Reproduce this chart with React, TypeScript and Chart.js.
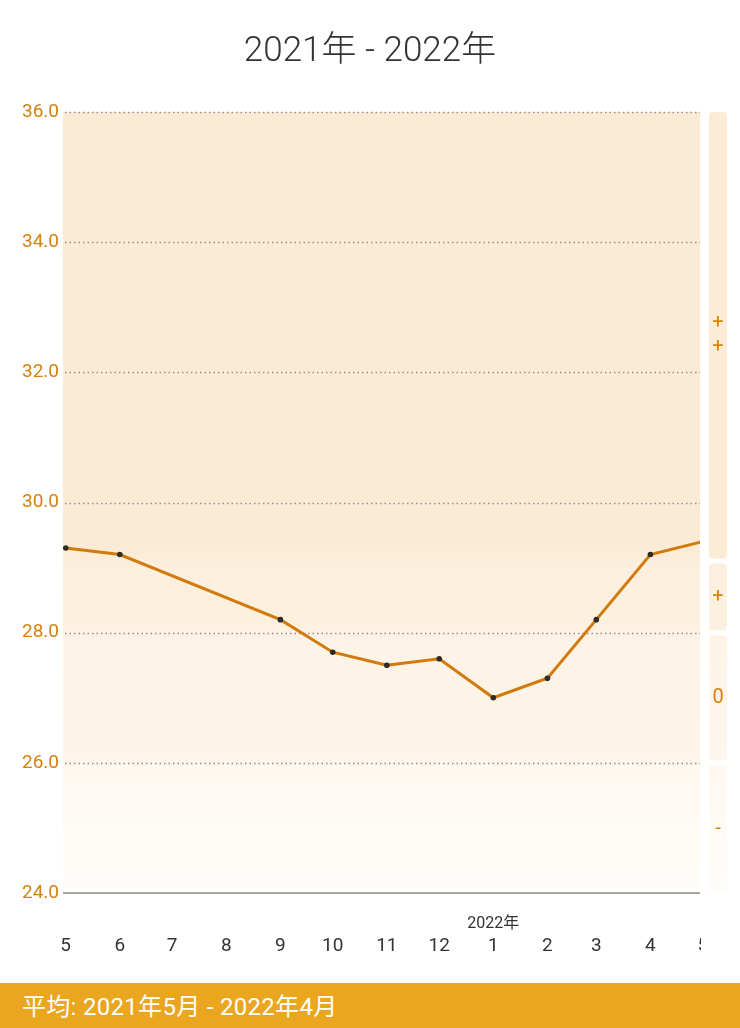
import React, { useEffect, useRef } from 'react';
import { Chart, registerables } from 'chart.js';

Chart.register(...registerables);

const FONT = "Roboto, 'Noto Sans CJK JP', 'Noto Sans', sans-serif";

const titleText = '2021年 - 2022年';
const footerText = '平均: 2021年5月 - 2022年4月';
const monthDates = [
  '2021-05-01', '2021-06-01', '2021-07-01', '2021-08-01', '2021-09-01', '2021-10-01', '2021-11-01',
  '2021-12-01', '2022-01-01', '2022-02-01', '2022-03-01', '2022-04-01', '2022-05-01',
];
const monthLabels = ['5', '6', '7', '8', '9', '10', '11', '12', '1', '2', '3', '4', '5'];
const values: (number | null)[] = [29.3, 29.2, null, null, 28.2, 27.7, 27.5, 27.6, 27.0, 27.3, 28.2, 29.2, 29.4];
const yearLabelIndex = 8;
const yearLabelText = '2022年';
const yMin = 24;
const yMax = 36;
const yStep = 2;
const xMinDate = '2021-04-29T11:00:00';
const xMaxDate = '2022-04-29T10:00:00';
const bandEdges = [36, 29.1, 28, 26, 24];
const bandSymbols = [['+', '+'], ['+'], ['0'], ['-']];

const ORANGE_TEXT = '#d4810f';
const LINE_COLOR = '#d27a0c';

const DAY = 86400000;
const toDays = (s: string) => (Date.parse(s.length === 10 ? s + 'T00:00:00Z' : s + 'Z') - Date.parse('2021-05-01T00:00:00Z')) / DAY;

const decor = {
  id: 'decor',
  beforeDatasetsDraw(chart: any) {
    const { ctx, chartArea: a, scales } = chart;
    const y = scales.y;
    ctx.save();
    const h = a.bottom - a.top;
    const g = ctx.createLinearGradient(0, a.top, 0, a.bottom);
    const stop = (v: number, c: string) => {
      const t = (y.getPixelForValue(v) - a.top) / h;
      g.addColorStop(Math.min(1, Math.max(0, t)), c);
    };
    stop(36, '#fcebd4');
    stop(29.35, '#fcebd4');
    stop(29.0, '#fcefde');
    stop(28.15, '#fcf0df');
    stop(27.9, '#fdf3e6');
    stop(26.1, '#fdf5ea');
    stop(25.9, '#fef8f0');
    stop(24, '#fffdfa');
    ctx.fillStyle = g;
    ctx.fillRect(a.left, a.top, a.right - a.left, h);

    // dotted grid lines
    ctx.strokeStyle = '#8f8f8f';
    ctx.lineWidth = 1.5;
    ctx.setLineDash([1.5, 3]);
    for (let v = yMin + yStep; v <= yMax; v += yStep) {
      const py = Math.round(y.getPixelForValue(v)) + 0.5;
      ctx.beginPath();
      ctx.moveTo(a.left + 2, py);
      ctx.lineTo(a.right, py);
      ctx.stroke();
    }
    ctx.setLineDash([]);
    ctx.strokeStyle = '#8a8a8a';
    ctx.lineWidth = 1.5;
    const by = y.getPixelForValue(yMin);
    ctx.beginPath();
    ctx.moveTo(a.left, by);
    ctx.lineTo(a.right, by);
    ctx.stroke();

    // right bands
    const bx = a.right + 9;
    const bw = 18;
    const bandFills = [
      ['#fcebd5', '#fcebd5'],
      ['#fcefdf', '#fcf0e0'],
      ['#fdf3e6', '#fdf6ee'],
      ['#fef8f0', '#fffdfa'],
    ];
    for (let i = 0; i < bandEdges.length - 1; i++) {
      const t = y.getPixelForValue(bandEdges[i]) + (i === 0 ? 0 : 2.5);
      const b = y.getPixelForValue(bandEdges[i + 1]) - (i === bandEdges.length - 2 ? 0 : 2.5);
      const bg = ctx.createLinearGradient(0, t, 0, b);
      bg.addColorStop(0, bandFills[i][0]);
      bg.addColorStop(1, bandFills[i][1]);
      ctx.fillStyle = bg;
      ctx.beginPath();
      ctx.roundRect(bx, t, bw, b - t, 4);
      ctx.fill();
      const syms = bandSymbols[i];
      const cy = (t + b) / 2;
      ctx.fillStyle = '#d9810f';
      ctx.font = `20px ${FONT}`;
      ctx.textAlign = 'center';
      ctx.textBaseline = 'middle';
      syms.forEach((s, k) => {
        const off = (k - (syms.length - 1) / 2) * 24;
        ctx.fillText(s, bx + bw / 2, cy + off);
      });
    }
    ctx.restore();
  },
  afterDraw(chart: any) {
    const { ctx, chartArea: a, scales, width } = chart;
    const x = scales.x;
    ctx.save();
    // title
    ctx.fillStyle = '#333333';
    ctx.font = `300 35px ${FONT}`;
    ctx.textAlign = 'center';
    ctx.textBaseline = 'middle';
    ctx.fillText(titleText, width / 2, 52);

    // x labels (clipped at chart right edge)
    ctx.save();
    ctx.beginPath();
    ctx.rect(0, a.bottom, a.right + 1, 200);
    ctx.clip();
    ctx.font = `19px ${FONT}`;
    ctx.fillStyle = '#333333';
    monthLabels.forEach((m, i) => {
      ctx.fillText(m, x.getPixelForValue(toDays(monthDates[i])), a.bottom + 53);
    });
    ctx.font = `16px ${FONT}`;
    ctx.fillText(yearLabelText, x.getPixelForValue(toDays(monthDates[yearLabelIndex])), a.bottom + 31);
    ctx.restore();
    ctx.restore();
  },
};

export default function App() {
  const ref = useRef<HTMLCanvasElement | null>(null);
  useEffect(() => {
    if (!ref.current) return;
    const chart = new Chart(ref.current, {
      type: 'line',
      data: {
        datasets: [
          {
            data: values.map((v, i) => ({ x: toDays(monthDates[i]), y: v })) as any,
            borderColor: LINE_COLOR,
            borderWidth: 3,
            pointRadius: 2.8,
            pointBackgroundColor: '#2e2a25',
            pointBorderWidth: 0,
            spanGaps: true,
            tension: 0,
            clip: 0,
          } as any,
        ],
      },
      options: {
        animation: false,
        responsive: false,
        layout: { padding: { left: 0, right: 40, top: 112, bottom: 90 } },
        plugins: { legend: { display: false }, tooltip: { enabled: false }, title: { display: false } },
        scales: {
          x: { type: 'linear', min: toDays(xMinDate), max: toDays(xMaxDate), display: false },
          y: {
            min: yMin,
            max: yMax,
            grid: { display: false, drawTicks: false },
            border: { display: false },
            ticks: {
              stepSize: yStep,
              color: ORANGE_TEXT,
              font: { family: FONT, size: 19 },
              padding: 4,
              callback: (v: any) => Number(v).toFixed(1),
            },
            afterFit: (s: any) => {
              s.width = 63;
            },
          },
        },
      } as any,
      plugins: [decor],
    });
    return () => chart.destroy();
  }, []);

  return (
    <div style={{ position: 'fixed', top: 0, left: 0, width: 740, height: 1028, background: '#fff' }}>
      <canvas ref={ref} width={740} height={983} style={{ display: 'block', width: 740, height: 983 }} />
      <div
        style={{
          height: 45,
          background: '#eba61f',
          color: '#fff',
          fontFamily: FONT,
          fontSize: 24,
          letterSpacing: '0.3px',
          lineHeight: '45px',
          paddingLeft: 22,
          paddingTop: 2,
          whiteSpace: 'nowrap',
          boxSizing: 'border-box',
        }}
      >
        {footerText}
      </div>
    </div>
  );
}
